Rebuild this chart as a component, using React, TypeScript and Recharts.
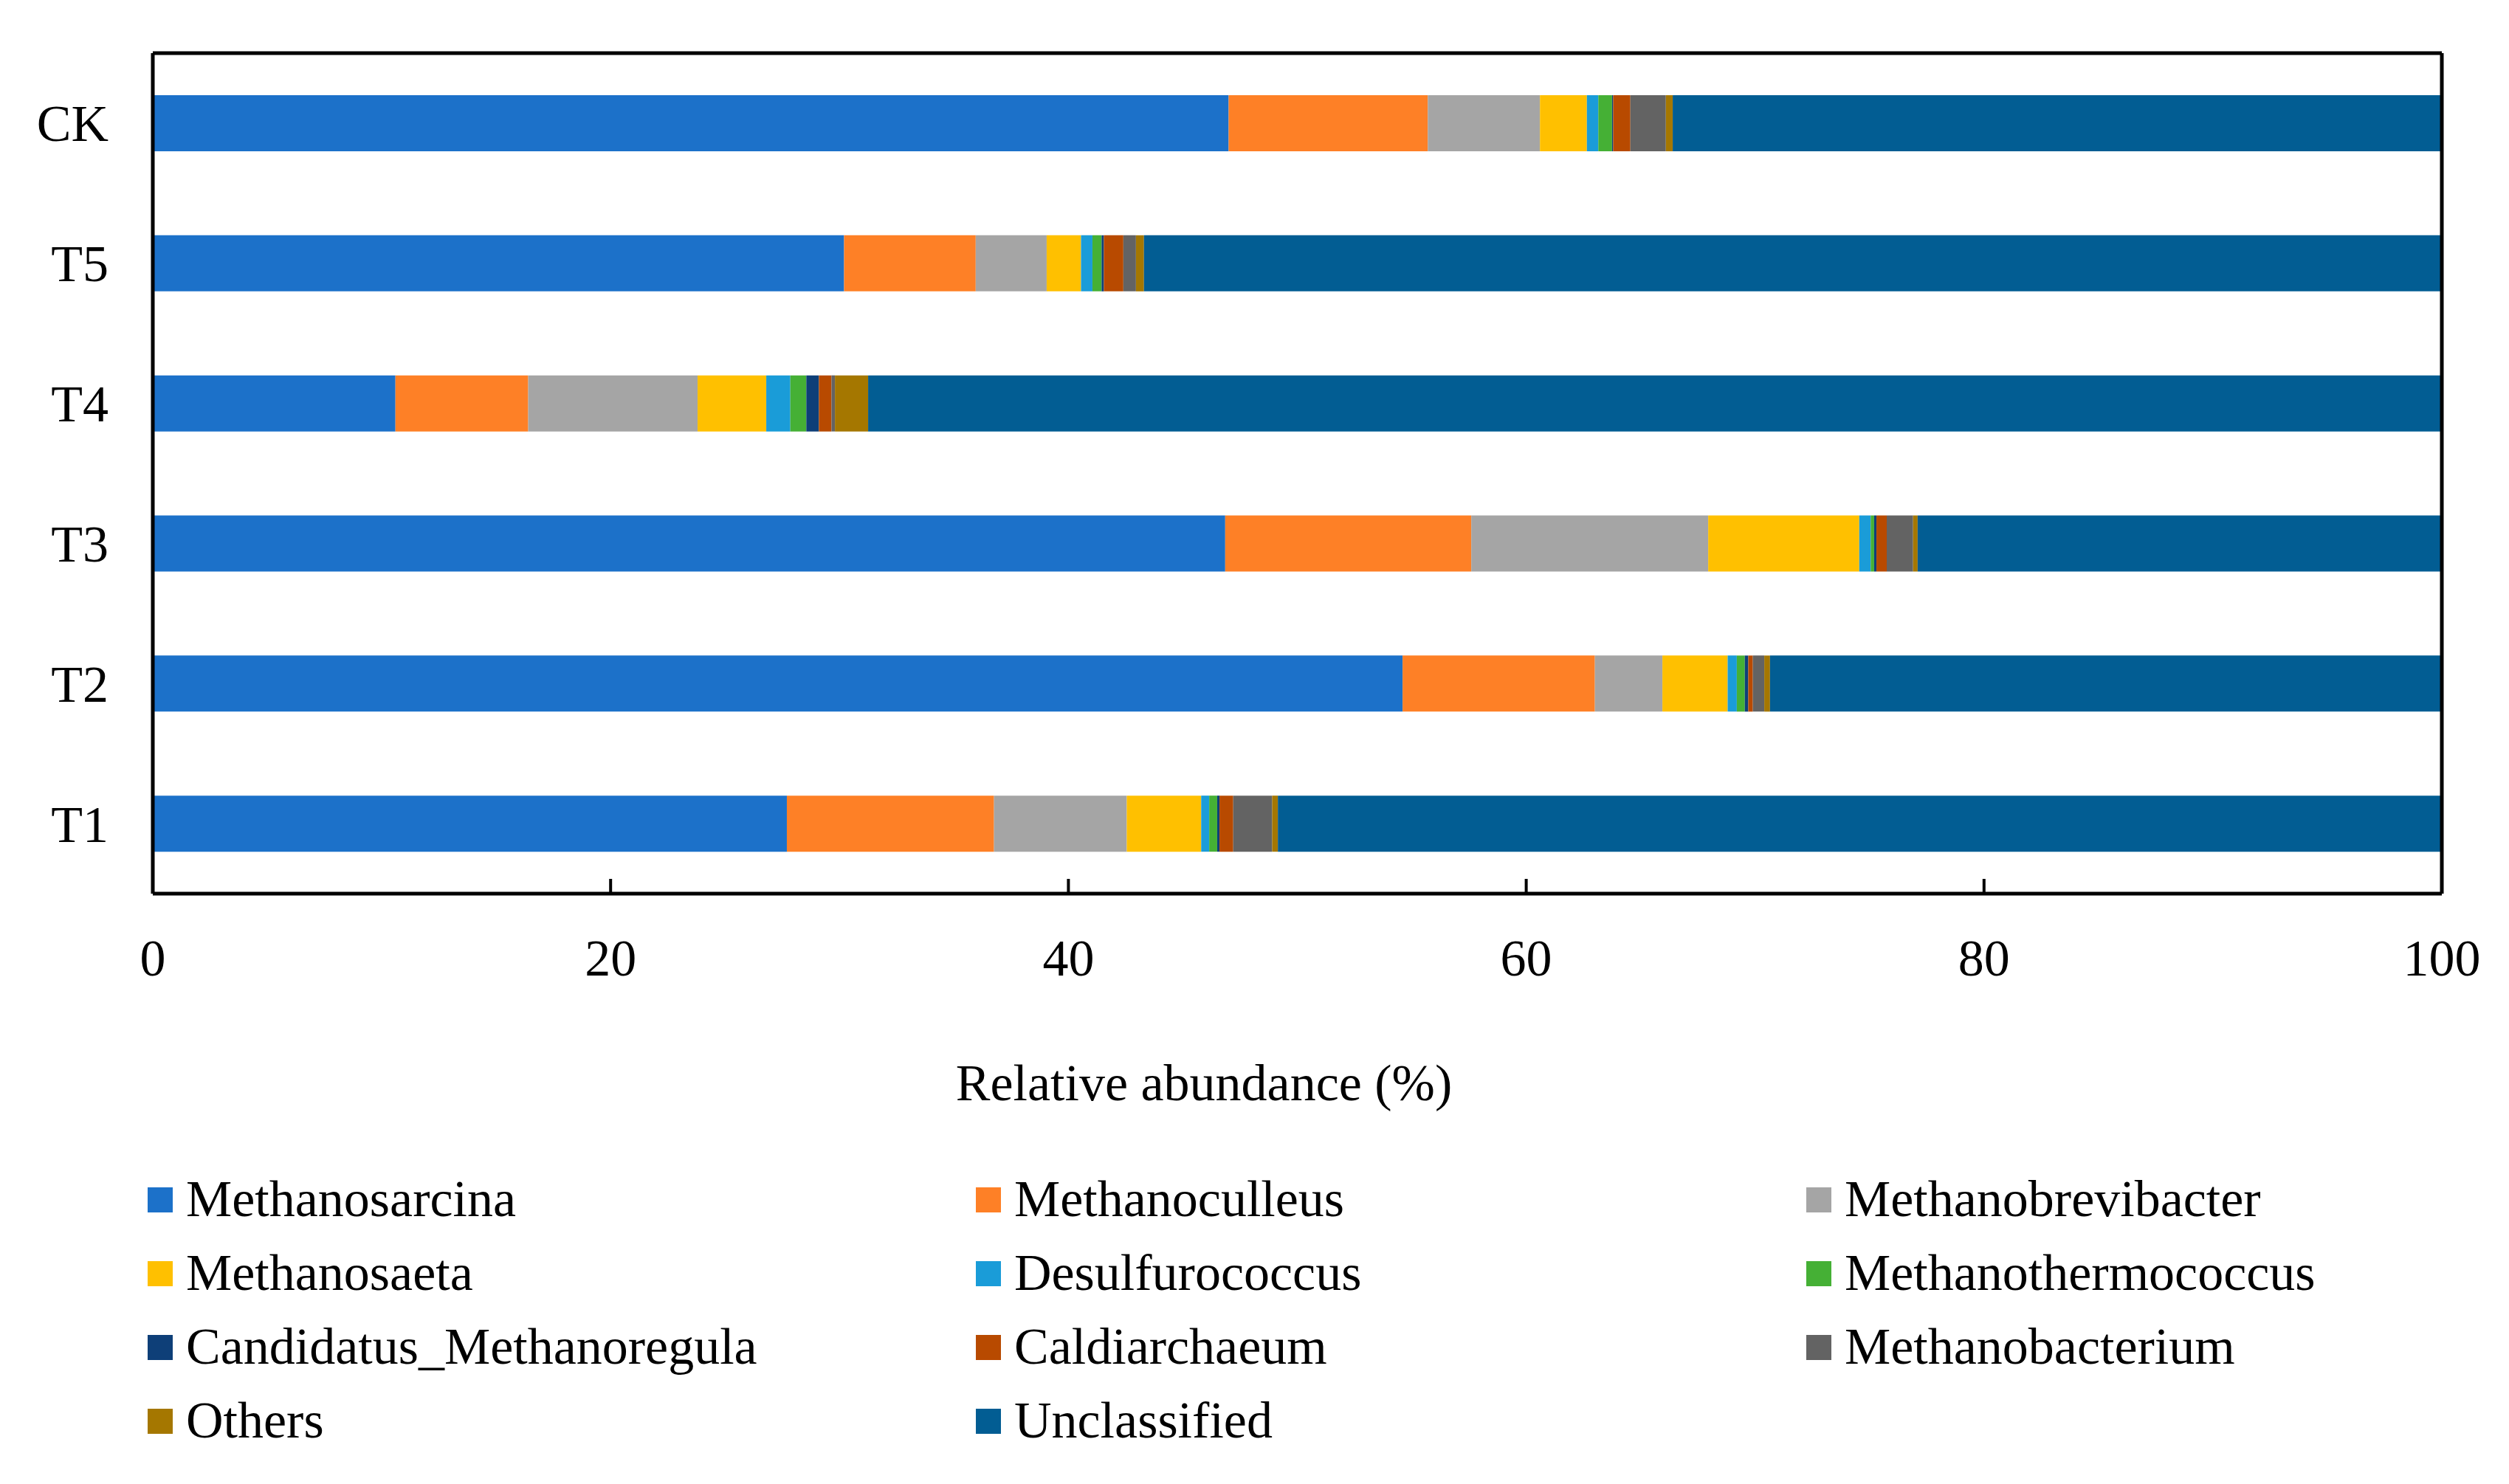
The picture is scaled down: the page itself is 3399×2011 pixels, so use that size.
import { BarChart, Bar, XAxis, YAxis } from 'recharts'

document.body.style.margin = '0'

const samples = ['CK', 'T5', 'T4', 'T3', 'T2', 'T1']

const genera = [
  'Methanosarcina',
  'Methanoculleus',
  'Methanobrevibacter',
  'Methanosaeta',
  'Desulfurococcus',
  'Methanothermococcus',
  'Candidatus_Methanoregula',
  'Caldiarchaeum',
  'Methanobacterium',
  'Others',
  'Unclassified',
]

const colors = [
  '#1C71C9',
  '#FE8026',
  '#A5A5A5',
  '#FFC000',
  '#1A9CD8',
  '#45B035',
  '#0E3F78',
  '#B84A00',
  '#636363',
  '#A57700',
  '#025D93',
]

// values per sample, same order as samples
const methanosarcina = [47.0, 30.2, 10.6, 46.85, 54.6, 27.7]
const methanoculleus = [8.7, 5.75, 5.8, 10.75, 8.4, 9.05]
const methanobrevibacter = [4.9, 3.1, 7.4, 10.35, 2.95, 5.8]
const methanosaeta = [2.05, 1.5, 3.0, 6.6, 2.85, 3.25]
const desulfurococcus = [0.5, 0.5, 1.05, 0.5, 0.4, 0.35]
const methanothermococcus = [0.6, 0.4, 0.7, 0.15, 0.35, 0.35]
const candidatus = [0.05, 0.1, 0.55, 0.1, 0.15, 0.1]
const caldiarchaeum = [0.75, 0.85, 0.55, 0.45, 0.2, 0.6]
const methanobacterium = [1.55, 0.55, 0.15, 1.15, 0.5, 1.7]
const others = [0.3, 0.35, 1.45, 0.2, 0.25, 0.25]
const unclassified = [33.6, 56.7, 68.75, 22.9, 29.35, 50.85]

const xTicks = [0, 20, 40, 60, 80, 100]

const seriesValues = [
  methanosarcina,
  methanoculleus,
  methanobrevibacter,
  methanosaeta,
  desulfurococcus,
  methanothermococcus,
  candidatus,
  caldiarchaeum,
  methanobacterium,
  others,
  unclassified,
]

const data = samples.map((name, i) => {
  const row: Record<string, string | number> = { name }
  genera.forEach((g, k) => {
    row[g] = seriesValues[k][i]
  })
  return row
})

const FONT = '"Liberation Serif", "Times New Roman", serif'
const FS = 70
const FRAME = { stroke: '#000', strokeWidth: 5 }

function XTick({ x, y, payload }: any) {
  return (
    <g>
      {payload.value !== 0 && payload.value !== 100 && (
        <line x1={x} y1={y} x2={x} y2={y - 20} stroke="#000" strokeWidth={4} />
      )}
      <text x={x} y={y + 111} textAnchor="middle" fontFamily={FONT} fontSize={FS} fill="#000">
        {payload.value}
      </text>
    </g>
  )
}

function YTick({ x, y, payload }: any) {
  return (
    <text x={x - 60} y={y} dy="0.35em" textAnchor="end" fontFamily={FONT} fontSize={FS} fill="#000">
      {payload.value}
    </text>
  )
}

export default function App() {
  const legendCols = [200, 1322, 2447]
  const legendRows = [1649, 1749, 1849, 1949]

  return (
    <div style={{ position: 'relative', width: 3399, height: 2011, background: '#fff' }}>
      <BarChart
        width={3399}
        height={2011}
        data={data}
        layout="vertical"
        margin={{ top: 70, right: 89, left: 107, bottom: 740 }}
      >
        <XAxis
          type="number"
          domain={[0, 100]}
          ticks={xTicks}
          tickLine={false}
          tickSize={0}
          tickMargin={0}
          height={60}
          axisLine={FRAME}
          tick={<XTick />}
          interval={0}
        />
        <XAxis
          xAxisId="top"
          orientation="top"
          type="number"
          domain={[0, 100]}
          ticks={xTicks}
          tick={false}
          tickLine={false}
          height={2}
          axisLine={FRAME}
        />
        <YAxis
          type="category"
          dataKey="name"
          width={100}
          tickLine={false}
          tickSize={0}
          tickMargin={0}
          axisLine={FRAME}
          tick={<YTick />}
          interval={0}
        />
        <YAxis
          yAxisId="right"
          orientation="right"
          type="category"
          dataKey="name"
          width={2}
          tick={false}
          tickLine={false}
          axisLine={FRAME}
        />
        {genera.map((g, k) => (
          <Bar
            key={g}
            dataKey={g}
            stackId="a"
            fill={colors[k]}
            barSize={76}
            isAnimationActive={false}
          />
        ))}
      </BarChart>

      <div
        style={{
          position: 'absolute',
          left: 1631,
          top: 1492 - 0.837 * FS,
          transform: 'translateX(-50%)',
          fontFamily: FONT,
          fontSize: FS,
          lineHeight: 1,
          whiteSpace: 'nowrap',
          color: '#000',
        }}
      >
        Relative abundance (%)
      </div>

      {genera.map((g, k) => {
        const left = legendCols[k % 3]
        const base = legendRows[Math.floor(k / 3)]
        return (
          <div key={g}>
            <div
              style={{
                position: 'absolute',
                left,
                top: base - 40,
                width: 34,
                height: 34,
                background: colors[k],
              }}
            />
            <div
              style={{
                position: 'absolute',
                left: left + 52,
                top: base - 0.837 * FS,
                fontFamily: FONT,
                fontSize: FS,
                lineHeight: 1,
                whiteSpace: 'nowrap',
                color: '#000',
              }}
            >
              {g}
            </div>
          </div>
        )
      })}
    </div>
  )
}
